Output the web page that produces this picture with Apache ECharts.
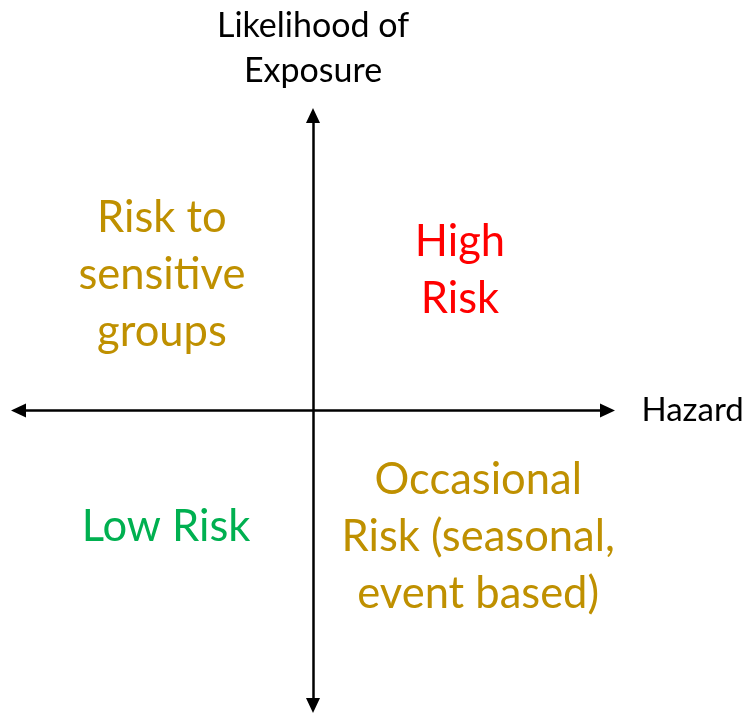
<!DOCTYPE html>
<html>
<head>
<meta charset="utf-8">
<script src="https://cdn.jsdelivr.net/npm/echarts@6/dist/echarts.min.js"></script>
<style>
html,body{margin:0;padding:0;background:#fff;}
#chart{width:748px;height:714px;}
</style>
</head>
<body>
<div id="chart"></div>
<script>
// Axis titles
const xAxisTitle = 'Hazard';
const yAxisTitle = 'Likelihood of\nExposure';
// Axis range (symmetric quadrant diagram)
const axisMin = -1;
const axisMax = 1;
// Quadrant labels and their positions (data coordinates)
const quadrantLabels = ['Risk to\nsensitive\ngroups', 'High\nRisk', 'Low Risk', 'Occasional\nRisk (seasonal,\nevent based)'];
const quadrantX = [-0.513, 0.499, -0.499, 0.561];
const quadrantY = [0.459, 0.473, -0.395, -0.429];
const quadrantColors = ['#BF9000', '#FF0000', '#00B050', '#BF9000'];

const FONT = 'Lato, "Open Sans", sans-serif';
const chart = echarts.init(document.getElementById('chart'), null, {renderer: 'canvas'});

const axisLineStyle = {
  show: true,
  onZero: true,
  symbol: ['triangle', 'triangle'],
  symbolSize: [14, 15],
  lineStyle: {color: '#000', width: 2.5}
};

chart.setOption({
  animation: false,
  backgroundColor: '#fff',
  grid: {left: 18.5, right: 140.5, top: 115.5, bottom: 8.5, containLabel: false},
  xAxis: {
    type: 'value', min: axisMin, max: axisMax,
    name: xAxisTitle, nameLocation: 'end', nameGap: 34,
    nameTextStyle: {color: '#000', fontSize: 33, fontFamily: FONT},
    axisLine: axisLineStyle,
    axisTick: {show: false}, axisLabel: {show: false}, splitLine: {show: false}
  },
  yAxis: {
    type: 'value', min: axisMin, max: axisMax,
    name: yAxisTitle, nameLocation: 'end', nameGap: 22,
    nameTextStyle: {color: '#000', fontSize: 34, lineHeight: 45, fontFamily: FONT, align: 'center'},
    axisLine: axisLineStyle,
    axisTick: {show: false}, axisLabel: {show: false}, splitLine: {show: false}
  },
  series: quadrantLabels.map((t, i) => ({
    type: 'scatter',
    clip: false,
    symbolSize: 1,
    itemStyle: {color: 'transparent', opacity: 1},
    silent: true,
    label: {
      show: true, position: 'inside', formatter: t,
      color: quadrantColors[i], fontSize: 43.5, lineHeight: 57, fontFamily: FONT, align: 'center'
    },
    data: [[quadrantX[i], quadrantY[i]]]
  }))
});
</script>
</body>
</html>
